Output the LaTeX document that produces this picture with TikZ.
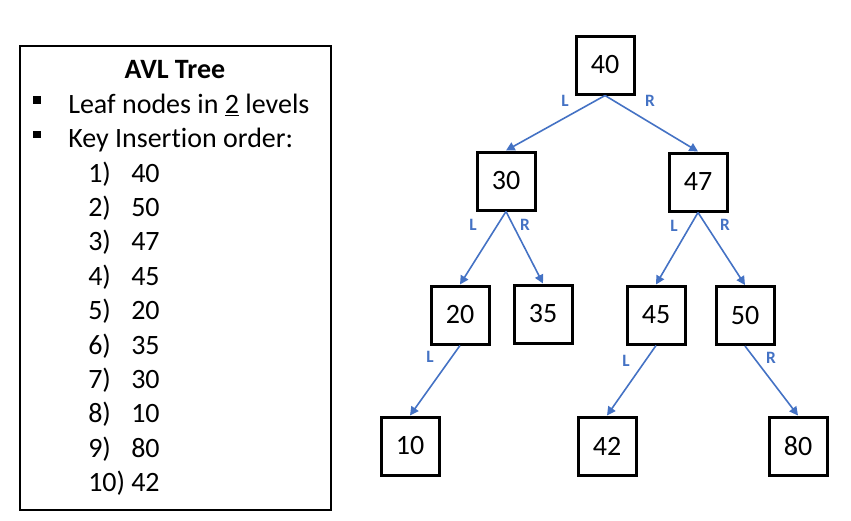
\documentclass[tikz,border=0pt]{standalone}
\usepackage{fontspec}
\setmainfont{Carlito}[Ligatures=NoCommon]
\usetikzlibrary{arrows.meta}
\definecolor{edgeblue}{HTML}{4472C4}
\tikzset{
  keybox/.style={draw, line width=2.25pt, minimum size=43.5pt, inner sep=0pt, font=\fontsize{21}{25}\selectfont},
  child/.style={edgeblue, line width=1.2pt, -{Triangle[length=6.5pt,width=6.5pt]}},
  side/.style={text=edgeblue, inner sep=0pt, font=\fontsize{13}{15}\selectfont\bfseries},
  listtext/.style={anchor=base west, inner sep=0pt, font=\fontsize{21}{25}\selectfont},
  bulletsq/.style={fill, minimum size=5.5pt, inner sep=0pt},
}
\begin{document}
\begin{tikzpicture}[x=0.75pt,y=-0.75pt]
  \useasboundingbox (0,0) rectangle (851,521);

  % legend panel
  \draw[line width=1pt] (20,46) rectangle (331,510);% frame
  \node[anchor=base, inner sep=0pt, font=\fontsize{21}{25}\selectfont\bfseries] (title) at (175,78) {AVL Tree};
  \node[bulletsq] (bulletA) at (37,100) {};
  \node[listtext] (leaf) at (68,113) {Leaf nodes in \underline{2} levels};
  \node[bulletsq] (bulletB) at (37,134.5) {};
  \node[listtext] (order) at (68,147.5) {Key Insertion order:};
  \foreach \key [count=\i] in {40,50,47,45,20,35,30,10,80,42} {
    \node[listtext] (num\i) at (88,{182+(\i-1)*34.4}) {\i)};
    \node[listtext] (key\i) at (131,{182+(\i-1)*34.4}) {\key};
  }

  % tree
  \node[keybox] (n40) at (605,65) {40};
  \node[keybox] (n30) at (506,181) {30};
  \node[keybox] (n47) at (698,182) {47};
  \node[keybox] (n20) at (460,315) {20};
  \node[keybox] (n35) at (543,314) {35};
  \node[keybox] (n45) at (656,315) {45};
  \node[keybox] (n50) at (745,315.5) {50};
  \node[keybox] (n10) at (410,446) {10};
  \node[keybox] (n42) at (607,446) {42};
  \node[keybox] (n80) at (798,446) {80};

  \draw[child] (n40.south) -- (n30.north);
  \draw[child] (n40.south) -- (n47.north);
  \draw[child] (n30.south) -- (n20.north);
  \draw[child] (n30.south) -- (n35.north);
  \draw[child] (n47.south) -- (n45.north);
  \draw[child] (n47.south) -- (n50.north);
  \draw[child] (n20.south) -- (n10.north);
  \draw[child] (n45.south) -- (n42.north);
  \draw[child] (n50.south) -- (n80.north);

  % side labels
  \node[side] (s40L) at (565,101) {L};
  \node[side] (s40R) at (650,101) {R};
  \node[side] (s30L) at (473,225) {L};
  \node[side] (s30R) at (525,225) {R};
  \node[side] (s47L) at (674,226) {L};
  \node[side] (s47R) at (725,225) {R};
  \node[side] (s20L) at (430,357) {L};
  \node[side] (s45L) at (626,361) {L};
  \node[side] (s50R) at (771,358) {R};
\end{tikzpicture}
\end{document}
